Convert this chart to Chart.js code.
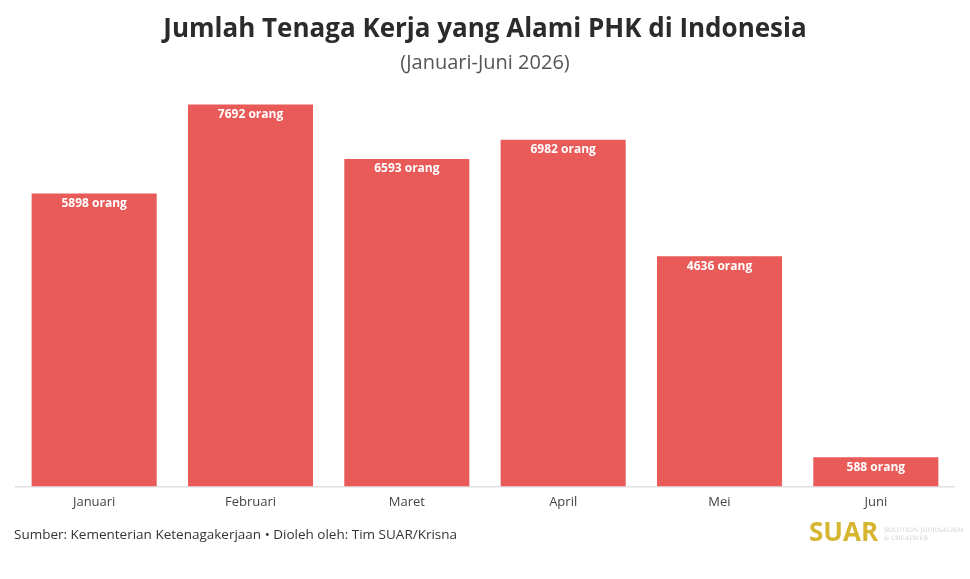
<!DOCTYPE html>
<html>
<head>
<meta charset="utf-8">
<script src="https://cdn.jsdelivr.net/npm/chart.js@4/dist/chart.umd.min.js"></script>
<style>
    html, body { margin: 0; padding: 0; background: #fff; }
    .wrap { width: 970px; height: 579px; position: relative; }
</style>
</head>
<body>
<div class="wrap"><canvas id="phkChart" width="970" height="579"></canvas></div>
<script>
// Data PHK Januari-Juni 2026
const bulan = ['Januari', 'Februari', 'Maret', 'April', 'Mei', 'Juni'];
const jumlahPHK = [5898, 7692, 6593, 6982, 4636, 588];
const satuan = 'orang';

const judul = 'Jumlah Tenaga Kerja yang Alami PHK di Indonesia';
const subjudul = '(Januari-Juni 2026)';
const sumber = 'Sumber: Kementerian Ketenagakerjaan \u2022 Dioleh oleh: Tim SUAR/Krisna';

// Label nilai di dalam batang
const labelBatang = {
    id: 'labelBatang',
    afterDatasetsDraw(chart) {
        const ctx = chart.ctx;
        const meta = chart.getDatasetMeta(0);
        ctx.save();
        ctx.font = 'bold 12px "Open Sans"';
        ctx.fillStyle = '#ffffff';
        ctx.textAlign = 'center';
        ctx.textBaseline = 'middle';
        meta.data.forEach((bar, i) => {
            ctx.fillText(jumlahPHK[i] + ' ' + satuan, bar.x, bar.y + 10);
        });
        ctx.restore();
    }
};

// Sumber dan logo di bawah grafik
const catatanBawah = {
    id: 'catatanBawah',
    afterDraw(chart) {
        const ctx = chart.ctx;
        ctx.save();
        ctx.textBaseline = 'middle';
        ctx.textAlign = 'left';
        ctx.fillStyle = '#333333';
        ctx.font = '13.5px "Open Sans"';
        ctx.fillText(sumber, 14, 535);

        ctx.fillStyle = '#d6b530';
        ctx.font = 'bold 26px "Open Sans"';
        ctx.fillText('SUAR', 809, 534);
        ctx.fillStyle = '#cfcfcf';
        ctx.font = '6px "DejaVu Serif"';
        ctx.fillText('SOLUTION JOURNALISM', 884, 530);
        ctx.fillText('& CREATIVES', 884, 538);
        ctx.restore();
    }
};

const ctx = document.getElementById('phkChart').getContext('2d');
new Chart(ctx, {
    type: 'bar',
    data: {
        labels: bulan,
        datasets: [{
            label: 'Jumlah PHK',
            data: jumlahPHK,
            backgroundColor: '#e85b59',
            categoryPercentage: 0.8,
            barPercentage: 1.0
        }]
    },
    options: {
        responsive: false,
        animation: false,
        devicePixelRatio: 1,
        layout: {
            padding: { left: 16, right: 16, top: 10, bottom: 69 }
        },
        plugins: {
            legend: { display: false },
            tooltip: { enabled: false },
            title: {
                display: true,
                text: judul,
                color: '#2b2b2b',
                font: { family: 'Open Sans', size: 26, weight: 'bold' },
                padding: { top: 4, bottom: 6 }
            },
            subtitle: {
                display: true,
                text: subjudul,
                color: '#555555',
                font: { family: 'Open Sans', size: 20 },
                padding: { bottom: 14 }
            }
        },
        scales: {
            x: {
                grid: { display: false, drawTicks: true },
                border: { color: '#e0e0e0', width: 1.5 },
                ticks: {
                    color: '#444444',
                    font: { family: 'Open Sans', size: 13 },
                    padding: 0
                }
            },
            y: {
                display: false,
                min: 0,
                max: 8000
            }
        }
    },
    plugins: [labelBatang, catatanBawah]
});
</script>
</body>
</html>
